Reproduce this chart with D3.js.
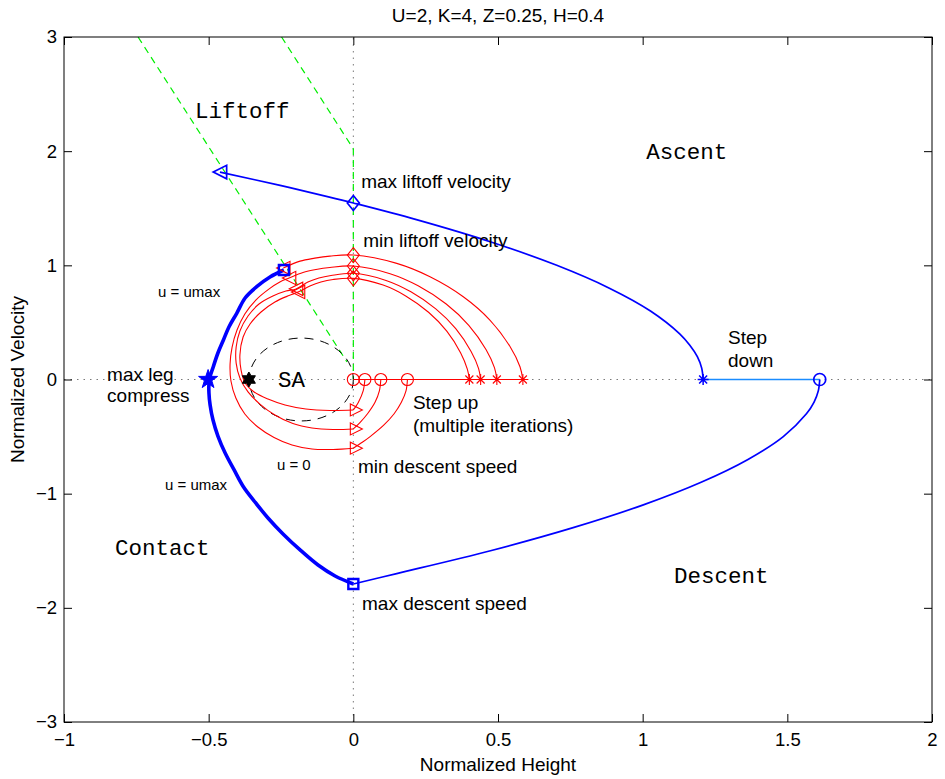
<!DOCTYPE html>
<html><head><meta charset="utf-8">
<script src="https://cdn.jsdelivr.net/npm/d3@7"></script>
<style>
body{margin:0;background:#fff}
text{font-family:"Liberation Sans",Arial,Helvetica,sans-serif;fill:#000}
.mono{font-family:"Liberation Mono","Courier New",monospace}
</style>
</head><body>
<svg id="c" width="945" height="779"></svg>
<script>
// ---------- data ----------
const title = "U=2, K=4, Z=0.25, H=0.4";
const xLabel = "Normalized Height";
const yLabel = "Normalized Velocity";
const xTicks = [-1,-0.5,0,0.5,1,1.5,2];
const xTickLabels = ["\u22121","\u22120.5","0","0.5","1","1.5","2"];
const yTicks = [-3,-2,-1,0,1,2,3];
const yTickLabels = ["\u22123","\u22122","\u22121","0","1","2","3"];

// blue trajectory
const blueAscent = [[-0.461,1.817],[-0.253,1.7],[-0.086,1.6],[0,1.546],[0.218,1.4],[0.481,1.2],[0.703,1.0],[0.885,0.8],[1.027,0.6],[1.128,0.4],[1.163,0.3],[1.189,0.2],[1.204,0.1],[1.209,0]];
const blueStepDown = [[1.209,0],[1.612,0]];
const blueDescent = [[1.612,0],[1.607,-0.1],[1.592,-0.2],[1.566,-0.3],[1.486,-0.5],[1.364,-0.7],[1.202,-0.9],[1.0,-1.1],[0.757,-1.3],[0.474,-1.5],[0.15,-1.7],[0,-1.791]];
const blueContact = [[0,-1.791],[-0.063,-1.721],[-0.122,-1.625],[-0.184,-1.493],[-0.243,-1.353],[-0.295,-1.213],[-0.340,-1.073],[-0.380,-0.939],[-0.412,-0.792],[-0.443,-0.644],[-0.468,-0.495],[-0.485,-0.355],[-0.495,-0.223],[-0.499,-0.118],[-0.498,-0.004],[-0.484,0.112],[-0.468,0.232],[-0.449,0.346],[-0.430,0.460],[-0.403,0.580],[-0.374,0.714],[-0.334,0.813],[-0.288,0.898],[-0.240,0.959]];

// red iterations (step up)
const redStep = [[0,0],[0.586,0]];
const redDescentB = [[0.187,0],[0.182,-0.1],[0.166,-0.2],[0.141,-0.3],[0.105,-0.4],[0.058,-0.5],[0.031,-0.55],[0,-0.602]];
const redDescentC = [[0.095,0],[0.090,-0.1],[0.075,-0.2],[0.049,-0.3],[0.022,-0.38],[0,-0.433]];
const redDescentD = [[0.04,0],[0.034,-0.1],[0.0176,-0.2],[0.0077,-0.24],[0,-0.267]];
const redLoopA = [[-0.242,0.976],[-0.184,1.037],[-0.133,1.063],[-0.081,1.081],[0,1.09],[0.150,1.017],[0.265,0.900],[0.380,0.725],[0.472,0.521],[0.542,0.287],[0.576,0.112],[0.586,0]];
const redLoopB = [[0,-0.602],[-0.070,-0.613],[-0.143,-0.609],[-0.212,-0.574],[-0.274,-0.508],[-0.330,-0.416],[-0.375,-0.302],[-0.406,-0.162],[-0.423,-0.013],[-0.426,0.136],[-0.419,0.284],[-0.402,0.433],[-0.375,0.574],[-0.337,0.696],[-0.292,0.792],[-0.254,0.854],[-0.222,0.889],[-0.174,0.937],[-0.129,0.963],[-0.081,0.981],[0,0.994],[0.127,0.927],[0.224,0.821],[0.321,0.661],[0.399,0.475],[0.459,0.261],[0.488,0.102],[0.496,0]];
const redLoopC = [[0,-0.433],[-0.070,-0.438],[-0.143,-0.425],[-0.209,-0.386],[-0.271,-0.311],[-0.323,-0.215],[-0.364,-0.109],[-0.392,0.013],[-0.405,0.144],[-0.405,0.285],[-0.392,0.425],[-0.364,0.556],[-0.326,0.661],[-0.278,0.731],[-0.233,0.775],[-0.198,0.793],[-0.157,0.854],[-0.119,0.889],[-0.077,0.911],[0,0.930],[0.113,0.868],[0.199,0.768],[0.285,0.618],[0.354,0.445],[0.407,0.245],[0.433,0.096],[0.44,0]];
const redLoopD = [[0,-0.267],[-0.081,-0.271],[-0.164,-0.258],[-0.236,-0.223],[-0.295,-0.171],[-0.343,-0.109],[-0.374,-0.031],[-0.388,0.083],[-0.392,0.215],[-0.381,0.372],[-0.357,0.486],[-0.319,0.591],[-0.271,0.679],[-0.222,0.736],[-0.191,0.766],[-0.150,0.819],[-0.112,0.854],[-0.070,0.876],[0,0.886],[0.103,0.827],[0.181,0.732],[0.260,0.589],[0.323,0.424],[0.371,0.233],[0.394,0.091],[0.401,0]];

const redCircles = [[0,0],[0.04,0],[0.095,0],[0.187,0]];
const redStars = [[0.401,0],[0.44,0],[0.496,0],[0.586,0]];
const redDiamonds = [[0,1.09],[0,0.994],[0,0.93],[0,0.886]];
const redTriRight = [[0,-0.267],[0,-0.433],[0,-0.602]];
const redTriLeft = [[-0.242,0.976],[-0.222,0.889],[-0.198,0.794],[-0.191,0.767]];

const blueTriLeft = [[-0.461,1.817]];
const blueDiamond = [[0,1.546]];
const blueStar = [[1.209,0]];
const blueCircle = [[1.612,0]];
const blueSquares = [[0,-1.791],[-0.240,0.959]];
const bluePenta = [[-0.502,0]];
const saPoint = [[-0.361,0]];
const saEllipse = [-0.18,0,0.18,0.363]; // cx, cy, rx, ry

const greenLine1 = [[-0.744,3],[-0.022,0.154]];
const greenLine2 = [[-0.248,3],[0,2.02],[0,0]];

const annotations = [
  {t:"max liftoff velocity", x:0.027, y:1.677, c:""},
  {t:"min liftoff velocity", x:0.034, y:1.160, c:""},
  {t:"Step", x:1.295, y:0.311, c:""},
  {t:"down", x:1.295, y:0.110, c:""},
  {t:"max leg", x:-0.851, y:-0.013, c:""},
  {t:"compress", x:-0.851, y:-0.197, c:""},
  {t:"Step up", x:0.206, y:-0.258, c:""},
  {t:"(multiple iterations)", x:0.206, y:-0.460, c:""},
  {t:"min descent speed", x:0.016, y:-0.819, c:""},
  {t:"max descent speed", x:0.030, y:-2.019, c:""},
  {t:"u = umax", x:-0.675, y:0.722, c:"small"},
  {t:"u = umax", x:-0.651, y:-0.968, c:"small"},
  {t:"u = 0", x:-0.264, y:-0.792, c:"small"},
  {t:"Liftoff", x:-0.547, y:2.290, c:"mono"},
  {t:"Ascent", x:1.012, y:1.931, c:"mono"},
  {t:"Contact", x:-0.824, y:-1.537, c:"mono"},
  {t:"Descent", x:1.108, y:-1.782, c:"mono"},
  {t:"SA", x:-0.260, y:-0.066, c:"mono"}
];

// ---------- drawing ----------
const W=945,H=779;
const svg=d3.select("#c");
svg.append("rect").attr("width",W).attr("height",H).attr("fill","#fff");
const x=d3.scaleLinear().domain([-1,2]).range([64,932]);
const y=d3.scaleLinear().domain([-3,3]).range([722,37]);
const smooth=d3.line().x(d=>x(d[0])).y(d=>y(d[1])).curve(d3.curveCatmullRom.alpha(0.5));
const straight=d3.line().x(d=>x(d[0])).y(d=>y(d[1]));

const plot=svg.append("g");
// zero lines (dotted)
plot.append("path").attr("d",straight([[x.domain()[0],0],[x.domain()[1],0]])).attr("stroke","#7a7a7a").attr("stroke-width",1).attr("stroke-dasharray","1.5,5").attr("fill","none");
plot.append("path").attr("d",straight([[0,y.domain()[0]],[0,y.domain()[1]]])).attr("stroke","#7a7a7a").attr("stroke-width",1).attr("stroke-dasharray","1.5,5").attr("fill","none");

// green boundary lines
[greenLine1,greenLine2].forEach(g=>plot.append("path").attr("d",straight(g)).attr("stroke","#00ee00").attr("stroke-width",1.2).attr("stroke-dasharray","7,5").attr("fill","none"));

// SA ellipse
plot.append("ellipse").attr("cx",x(saEllipse[0])).attr("cy",y(saEllipse[1]))
  .attr("rx",x(saEllipse[2])-x(0)).attr("ry",y(0)-y(saEllipse[3]))
  .attr("fill","none").attr("stroke","#000").attr("stroke-width",1).attr("stroke-dasharray","9,7");

// red curves
const red="#ff0000";
plot.append("path").attr("d",straight(redStep)).attr("stroke",red).attr("stroke-width",1.2).attr("fill","none");
[redDescentB,redDescentC,redDescentD,redLoopA,redLoopB,redLoopC,redLoopD].forEach(s=>
  plot.append("path").attr("d",smooth(s)).attr("stroke",red).attr("stroke-width",1.1).attr("fill","none"));

// blue curves
const blue="#0000ff";
plot.append("path").attr("d",smooth(blueAscent)).attr("stroke",blue).attr("stroke-width",1.7).attr("fill","none");
plot.append("path").attr("d",straight(blueStepDown)).attr("stroke","#1a8cff").attr("stroke-width",1.4).attr("fill","none");
plot.append("path").attr("d",smooth(blueDescent)).attr("stroke",blue).attr("stroke-width",1.7).attr("fill","none");
plot.append("path").attr("d",smooth(blueContact)).attr("stroke",blue).attr("stroke-width",3.6).attr("fill","none");

// markers
function starPath(n,R,r){let p=[];for(let i=0;i<2*n;i++){const a=-Math.PI/2+i*Math.PI/n;const rr=i%2?r:R;p.push([rr*Math.cos(a),rr*Math.sin(a)]);}return "M"+p.map(q=>q[0].toFixed(2)+","+q[1].toFixed(2)).join("L")+"Z";}
const shapes={
  tl:"M-6.7,0L6.7,-6.7L6.7,6.7Z",
  tr:"M9,0L-3,-6L-3,6Z",
  d:"M0,-7.5L6,0L0,7.5L-6,0Z",
  s:"M-5,-5H5V5H-5Z",
  o:"M6,0A6,6 0 1,1 -6,0A6,6 0 1,1 6,0Z",
  ast:"M-5.5,0H5.5M0,-5.5V5.5M-4,-4L4,4M-4,4L4,-4",
  p:starPath(5,10,3.9),
  h:starPath(6,7.5,4.3)
};
function markers(data,shape,stroke,sw,fill){
  plot.selectAll(null).data(data).enter().append("path")
   .attr("d",shapes[shape]).attr("transform",d=>`translate(${x(d[0])},${y(d[1])})`)
   .attr("stroke",stroke).attr("stroke-width",sw).attr("fill",fill||"none");
}
markers(redCircles,"o",red,1.1);
markers(redStars,"ast",red,1.1);
markers(redDiamonds,"d",red,1.1);
markers(redTriRight,"tr",red,1.1);
markers(redTriLeft,"tl",red,1.1);
markers(blueTriLeft,"tl",blue,1.7);
markers(blueDiamond,"d",blue,1.7);
markers(blueStar,"ast",blue,1.5);
markers(blueCircle,"o",blue,1.7);
markers(blueSquares,"s",blue,2.4);
markers(bluePenta,"p",blue,1,blue);
markers(saPoint,"h",'#000',1,'#000');

// axes box and ticks
const ax=svg.append("g");
const tickLen=8;
const axBottom=d3.axisBottom(x).tickValues(xTicks).tickFormat((d,i)=>xTickLabels[i]).tickSize(-tickLen).tickPadding(11);
const axTop=d3.axisTop(x).tickValues(xTicks).tickFormat("").tickSize(-tickLen);
const axLeft=d3.axisLeft(y).tickValues(yTicks).tickFormat((d,i)=>yTickLabels[i]).tickSize(-tickLen).tickPadding(7);
const axRight=d3.axisRight(y).tickValues(yTicks).tickFormat("").tickSize(-tickLen);
const gb=ax.append("g").attr("transform",`translate(0,${y.range()[0]})`).call(axBottom);
const gt=ax.append("g").attr("transform",`translate(0,${y.range()[1]})`).call(axTop);
const gl=ax.append("g").attr("transform",`translate(${x.range()[0]},0)`).call(axLeft);
const gr=ax.append("g").attr("transform",`translate(${x.range()[1]},0)`).call(axRight);
[gb,gt,gl,gr].forEach(g=>{g.select(".domain").remove();g.selectAll("line").attr("stroke","#000");g.selectAll("text").attr("font-size",18.5).attr("font-family","Liberation Sans, Arial, sans-serif").attr("fill","#000");});
ax.append("rect").attr("x",x.range()[0]).attr("y",y.range()[1]).attr("width",x.range()[1]-x.range()[0]).attr("height",y.range()[0]-y.range()[1]).attr("fill","none").attr("stroke","#000").attr("stroke-width",1);

// labels
svg.append("text").attr("x",(x.range()[0]+x.range()[1])/2).attr("y",22).attr("text-anchor","middle").attr("font-size",19).text(title);
svg.append("text").attr("x",(x.range()[0]+x.range()[1])/2).attr("y",771).attr("text-anchor","middle").attr("font-size",19).text(xLabel);
svg.append("text").attr("transform",`translate(24,${(y.range()[0]+y.range()[1])/2}) rotate(-90)`).attr("text-anchor","middle").attr("font-size",19).text(yLabel);

svg.selectAll(null).data(annotations).enter().append("text")
  .attr("class",d=>d.c==="mono"?"mono":null)
  .attr("x",d=>x(d.x)).attr("y",d=>y(d.y))
  .attr("font-size",d=>d.c==="mono"?22.5:(d.c==="small"?15:19))
  .text(d=>d.t);
</script>
</body></html>
